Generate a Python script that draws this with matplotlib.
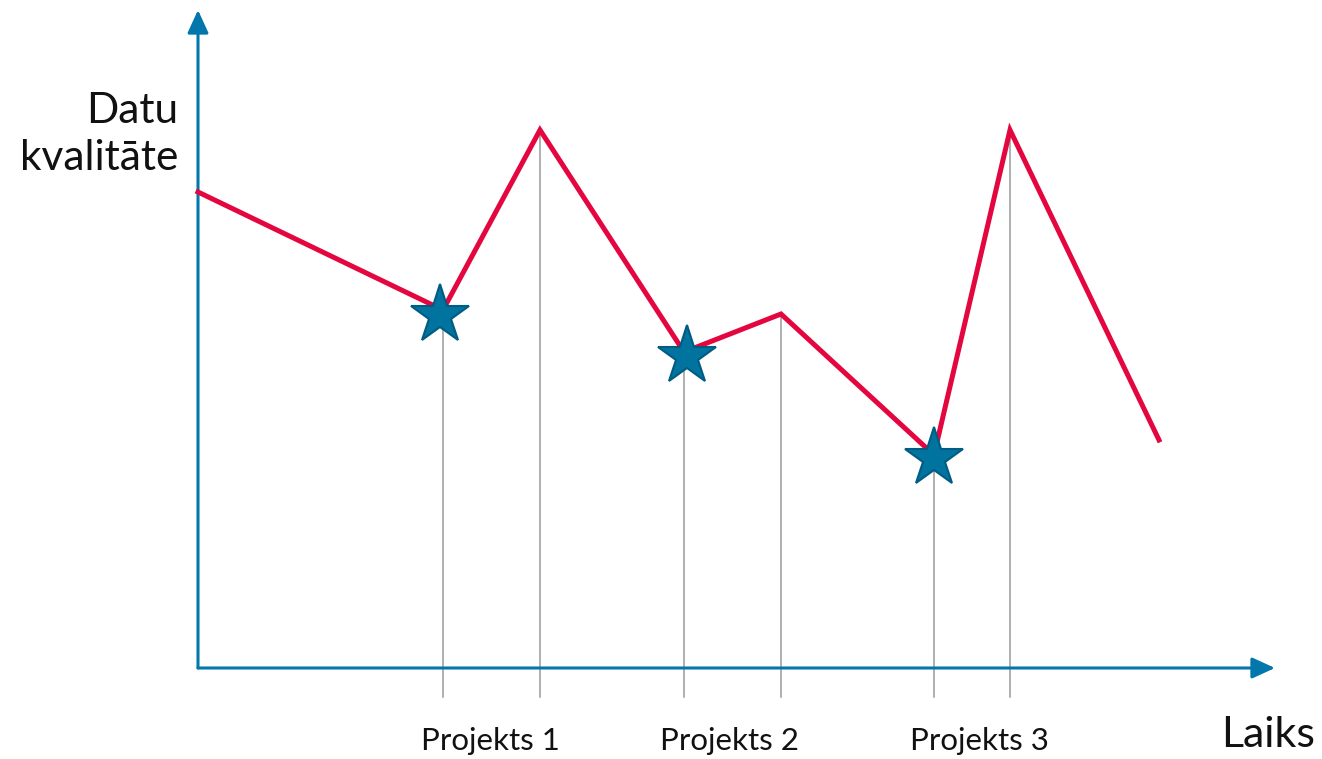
import matplotlib.pyplot as plt

plt.rcParams['font.family'] = ['Lato', 'DejaVu Sans']

# Quality curve over time (arbitrary units)
times = [0.0, 2.45, 3.42, 4.86, 5.83, 7.36, 8.12, 9.61]
quality = [4.76, 3.58, 5.38, 3.16, 3.54, 2.13, 5.38, 2.28]

# Project start (star) markers
star_t = [2.42, 4.89, 7.36]
star_q = [3.53, 3.12, 2.10]

# Vertical guides: index into the curve points
guide_idx = [1, 2, 3, 4, 5, 6]

project_labels = ['Projekts 1', 'Projekts 2', 'Projekts 3']
label_t = [2.92, 5.32, 7.81]

RED = '#E4063F'
BLUE = '#0277AC'
STAR = '#00739F'
STAR_EDGE = '#005C83'
GRAY = '#9A9A9A'
TEXT = '#111111'

W, H = 1322, 759
fig = plt.figure(figsize=(W/100, H/100), dpi=100)
x0, y0 = 198, 668
ax = fig.add_axes([x0/W, (H - y0)/H, (W - x0)/W, y0/H])
ax.set_xlim(0, (W - x0)/100)
ax.set_ylim(0, y0/100)
ax.axis('off')

# guides
for i in guide_idx:
    ax.plot([times[i], times[i]], [quality[i], -0.29], color=GRAY, lw=1.1,
            clip_on=False, zorder=1)

# axes with arrows
arrow = dict(arrowstyle='-|>,head_length=0.7,head_width=0.32',
             color=BLUE, lw=2.2, mutation_scale=20, shrinkA=0, shrinkB=0)
ax.annotate('', xy=(0, 6.58), xytext=(0, 0), arrowprops=arrow,
            annotation_clip=False, zorder=2)
ax.annotate('', xy=(10.77, 0), xytext=(0, 0), arrowprops=arrow,
            annotation_clip=False, zorder=2)

ax.plot(times, quality, color=RED, lw=3.6, solid_joinstyle='miter',
        clip_on=False, zorder=3)
ax.plot(star_t, star_q, linestyle='', marker='*', markersize=44,
        markerfacecolor=STAR, markeredgecolor=STAR_EDGE, markeredgewidth=1.5,
        clip_on=False, zorder=4)

for t, lab in zip(label_t, project_labels):
    ax.text(t, -0.82, lab, ha='center', va='baseline', fontsize=22.5,
            color=TEXT)

ax.text(11.17, -0.79, 'Laiks', ha='right', va='baseline', fontsize=31,
        color=TEXT)
ax.text(-0.2, 4.98, 'Datu\nkvalitāte', ha='right', va='baseline',
        fontsize=30.5, color=TEXT, multialignment='right', linespacing=1.3)

fig.savefig('out.png', dpi=100)
